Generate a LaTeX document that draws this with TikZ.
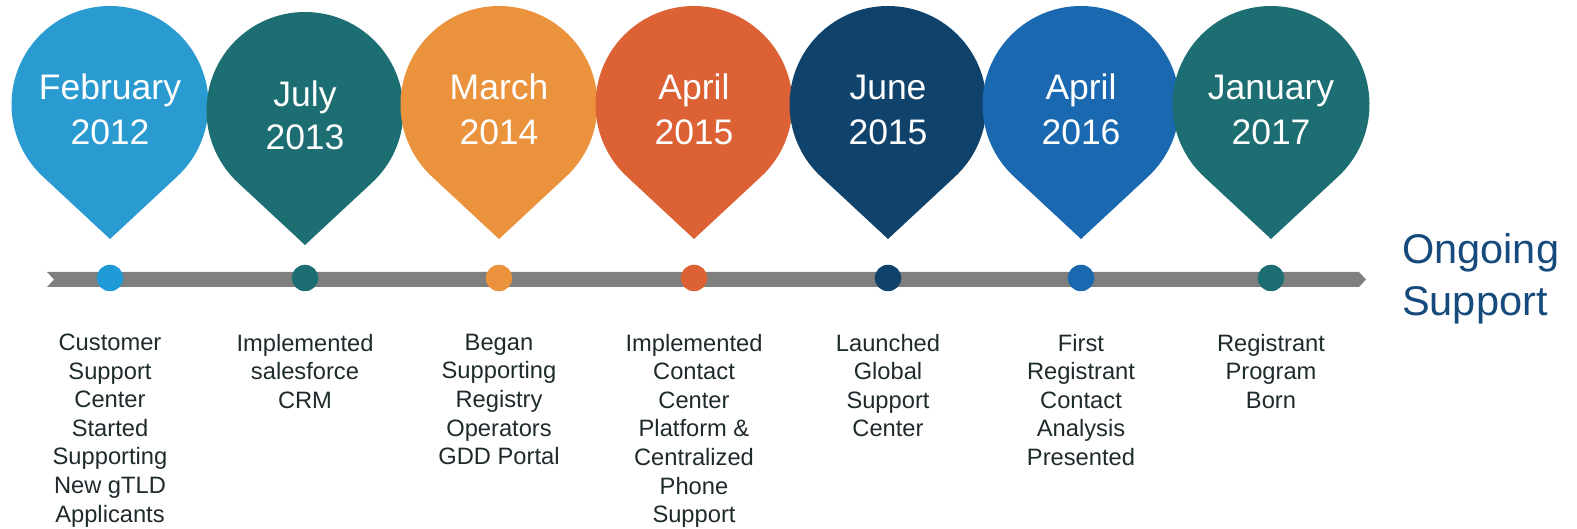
\documentclass[tikz,border=0pt]{standalone}
\usepackage{fontspec}
\setmainfont{Liberation Sans}
\usetikzlibrary{calc}
\definecolor{pinA}{HTML}{2A9BD1}
\definecolor{pinB}{HTML}{1D6E72}
\definecolor{pinC}{HTML}{EB923C}
\definecolor{pinD}{HTML}{DC6236}
\definecolor{pinE}{HTML}{10436C}
\definecolor{pinF}{HTML}{1A68B0}
\definecolor{dotA}{HTML}{1E9AD6}
\definecolor{barcol}{HTML}{7F7F7F}
\definecolor{desccol}{HTML}{1F2A2C}
\definecolor{ongoingcol}{HTML}{174A7C}
\tikzset{
  datetxt/.style={text=white, inner sep=0pt, anchor=base, font=\fontsize{35.5}{43}\selectfont},
  desctxt/.style={text=desccol, inner sep=0pt, align=center, anchor=north, font=\fontsize{23.7}{28.6}\selectfont},
  dotmark/.style={circle, inner sep=0pt, minimum size=26.5pt},
  endtxt/.style={text=ongoingcol, inner sep=0pt, align=left, anchor=north west, font=\fontsize{41.5}{52}\selectfont}
}
\newcommand{\droppin}[3]{%
  \fill[#3] (#1,#2-134.5) -- ($(#1,#2)+(-47.08:98.5)$) arc[start angle=-47.08, end angle=227.08, radius=98.5] -- cycle;}
\begin{document}
\begin{tikzpicture}[x=1pt,y=1pt]
\useasboundingbox (0,0) rectangle (1577,528);
% timeline bar
\fill[barcol] (47,256) -- (1359,256) -- (1366,248.5) -- (1359,241) -- (47,241) -- (54,248.5) -- cycle;
% pins
\droppin{110}{423.5}{pinA}
\droppin{305}{417.5}{pinB}
\droppin{499}{423.5}{pinC}
\droppin{694}{423.5}{pinD}
\droppin{888}{423.5}{pinE}
\droppin{1081}{423.5}{pinF}
\droppin{1271}{423.5}{pinB}
% dates
\node[datetxt] (m1) at (110,428) {February};
\node[datetxt] (y1) at (110,383) {2012};
\node[datetxt] (m2) at (305,421) {July};
\node[datetxt] (y2) at (305,378) {2013};
\node[datetxt] (m3) at (499,428) {March};
\node[datetxt] (y3) at (499,383) {2014};
\node[datetxt] (m4) at (694,428) {April};
\node[datetxt] (y4) at (694,383) {2015};
\node[datetxt] (m5) at (888,428) {June};
\node[datetxt] (y5) at (888,383) {2015};
\node[datetxt] (m6) at (1081,428) {April};
\node[datetxt] (y6) at (1081,383) {2016};
\node[datetxt] (m7) at (1271,428) {January};
\node[datetxt] (y7) at (1271,383) {2017};
% dots
\node[dotmark, fill=dotA] (p1) at (110,250) {};
\node[dotmark, fill=pinB] (p2) at (305,250) {};
\node[dotmark, fill=pinC] (p3) at (499,250) {};
\node[dotmark, fill=pinD] (p4) at (694,250) {};
\node[dotmark, fill=pinE] (p5) at (888,250) {};
\node[dotmark, fill=pinF] (p6) at (1081,250) {};
\node[dotmark, fill=pinB] (p7) at (1271,250) {};
% descriptions
\node[desctxt] (t1) at (110,194.3) {Customer\\Support\\Center\\Started\\Supporting\\New gTLD\\Applicants};
\node[desctxt] (t2) at (305,194.3) {Implemented\\salesforce\\CRM};
\node[desctxt] (t3) at (499,194.3) {Began\\Supporting\\Registry\\Operators\\GDD Portal};
\node[desctxt] (t4) at (694,194.3) {Implemented\\Contact\\Center\\Platform \&\\Centralized\\Phone\\Support};
\node[desctxt] (t5) at (888,194.3) {Launched\\Global\\Support\\Center};
\node[desctxt] (t6) at (1081,194.3) {First\\Registrant\\Contact\\Analysis\\Presented};
\node[desctxt] (t7) at (1271,194.3) {Registrant\\Program\\Born};
% end label
\node[endtxt] (ongoing) at (1402,294.3) {Ongoing\\Support};
\end{tikzpicture}
\end{document}
